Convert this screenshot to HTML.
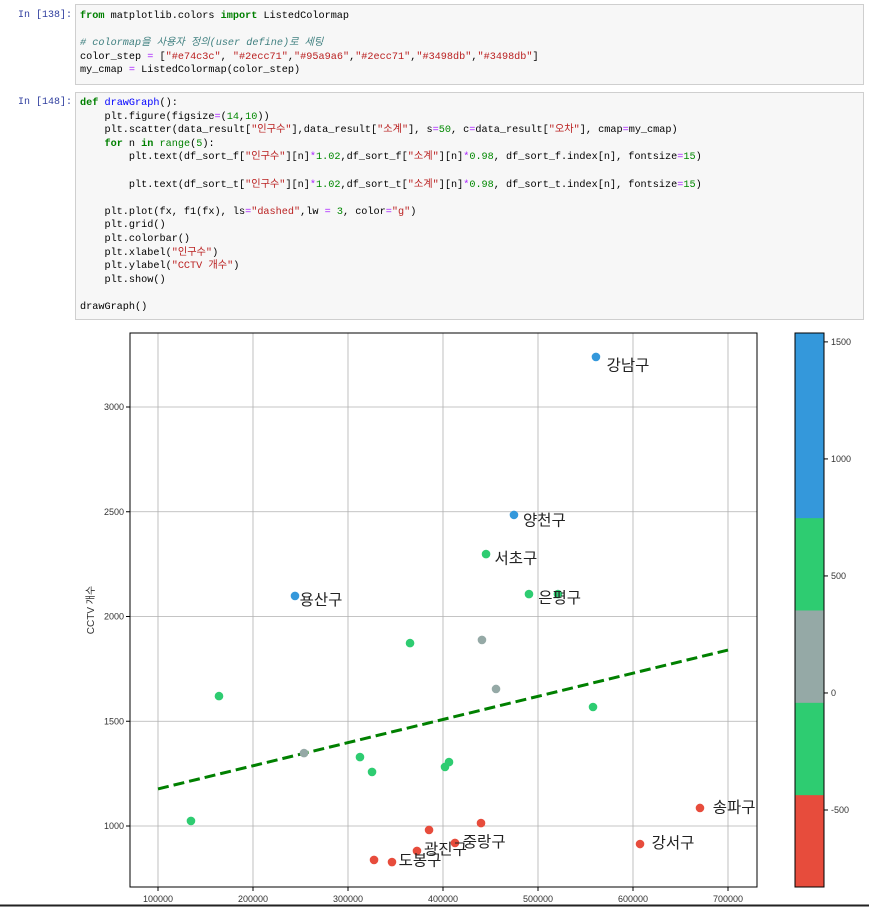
<!DOCTYPE html>
<html><head><meta charset="utf-8">
<style>
body{margin:0;width:869px;height:907px;background:#fff;position:relative;overflow:hidden;font-family:"Liberation Mono","Noto Sans CJK KR",monospace;}
.prompt{position:absolute;left:18px;color:#303f9f;font-size:10px;}
.cell{position:absolute;left:75px;width:789px;background:#f7f7f7;border:1px solid #cfcfcf;box-sizing:border-box;}
.code{position:absolute;left:80px;font-size:10.2px;line-height:13.6px;white-space:pre;color:#000;}
.k{color:#008000;font-weight:bold}.s{color:#ba2121}.n{color:#080}.c{color:#408080;font-style:italic}.o{color:#aa22ff}.f{color:#0000ff}.b{color:#008000}
</style></head><body>
<div class="prompt" style="top:10px">In [138]:</div>
<div class="cell" style="top:4px;height:81px"></div>
<div class="code" style="top:10px"><span class="k">from</span> matplotlib.colors <span class="k">import</span> ListedColormap

<span class="c"># colormap을 사용자 정의(user define)로 세팅</span>
color_step <span class="o">=</span> [<span class="s">"#e74c3c"</span>, <span class="s">"#2ecc71"</span>,<span class="s">"#95a9a6"</span>,<span class="s">"#2ecc71"</span>,<span class="s">"#3498db"</span>,<span class="s">"#3498db"</span>]
my_cmap <span class="o">=</span> ListedColormap(color_step)</div>
<div class="prompt" style="top:97px">In [148]:</div>
<div class="cell" style="top:92px;height:228px"></div>
<div class="code" style="top:97px"><span class="k">def</span> <span class="f">drawGraph</span>():
    plt.figure(figsize<span class="o">=</span>(<span class="n">14</span>,<span class="n">10</span>))
    plt.scatter(data_result[<span class="s">"인구수"</span>],data_result[<span class="s">"소계"</span>], s<span class="o">=</span><span class="n">50</span>, c<span class="o">=</span>data_result[<span class="s">"오차"</span>], cmap<span class="o">=</span>my_cmap)
    <span class="k">for</span> n <span class="k">in</span> <span class="b">range</span>(<span class="n">5</span>):
        plt.text(df_sort_f[<span class="s">"인구수"</span>][n]<span class="o">*</span><span class="n">1.02</span>,df_sort_f[<span class="s">"소계"</span>][n]<span class="o">*</span><span class="n">0.98</span>, df_sort_f.index[n], fontsize<span class="o">=</span><span class="n">15</span>)

        plt.text(df_sort_t[<span class="s">"인구수"</span>][n]<span class="o">*</span><span class="n">1.02</span>,df_sort_t[<span class="s">"소계"</span>][n]<span class="o">*</span><span class="n">0.98</span>, df_sort_t.index[n], fontsize<span class="o">=</span><span class="n">15</span>)

    plt.plot(fx, f1(fx), ls<span class="o">=</span><span class="s">"dashed"</span>,lw <span class="o">=</span> <span class="n">3</span>, color<span class="o">=</span><span class="s">"g"</span>)
    plt.grid()
    plt.colorbar()
    plt.xlabel(<span class="s">"인구수"</span>)
    plt.ylabel(<span class="s">"CCTV 개수"</span>)
    plt.show()

drawGraph()</div>

<svg id="chart" width="869" height="907" style="position:absolute;left:0;top:0" font-family="Liberation Sans, Noto Sans CJK KR, sans-serif">
<g id="grid"></g><g id="marks"></g><g id="cbar"></g>
<rect x="130" y="333" width="627" height="554" fill="none" stroke="#000" stroke-width="1"/>
<text transform="translate(94,610) rotate(-90)" text-anchor="middle" font-size="10" fill="#333">CCTV 개수</text>
<line x1="0" y1="905.5" x2="869" y2="905.5" stroke="#222" stroke-width="2"/>
</svg>
<script>
const districts=["강남구","양천구","서초구","용산구","은평구","","","","","","","","","","","","","송파구","","","강서구","중랑구","광진구","","도봉구"];
const population=[561000,474700,445300,244200,490500,521000,365300,441000,455800,164200,557900,253700,312600,325300,402100,406300,134700,670500,440000,385300,607400,412600,372600,327400,346300];
const cctv=[3239,2485,2298,2098,2107,2107,1873,1888,1654,1620,1568,1348,1329,1258,1282,1305,1024,1086,1014,981,914,919,881,838,828];
const errors=[1200,1200,500,1200,500,500,500,100,100,500,500,100,-300,-300,-300,-300,-300,-600,-600,-600,-600,-600,-600,-600,-600];
const xTicks=[100000,200000,300000,400000,500000,600000,700000];
const yTicks=[1000,1500,2000,2500,3000];
const trendX=[100000,700000];
const trendY=[1177,1840];
const cbColors=["#e74c3c","#2ecc71","#95a9a6","#2ecc71","#3498db","#3498db"];
const cbTicks=[-500,0,500,1000,1500];
const cbMin=-829,cbMax=1538;

const NS="http://www.w3.org/2000/svg";
const X=v=>158+(v-100000)*570/600000;
const Y=v=>826-(v-1000)*419/2000;
const CB=v=>887-(v-cbMin)*554/(cbMax-cbMin);
function mk(tag,attrs,parent){const e=document.createElementNS(NS,tag);for(const k in attrs)e.setAttribute(k,attrs[k]);parent.appendChild(e);return e;}
const grid=document.getElementById('grid'),marks=document.getElementById('marks'),cbar=document.getElementById('cbar');
xTicks.forEach(t=>{
  const l=mk('line',{x1:X(t),x2:X(t),y1:333,y2:887,stroke:'#b0b0b0','stroke-width':0.8},grid);
  
  
  mk('line',{x1:X(t),x2:X(t),y1:887,y2:891,stroke:'#000'},grid);
  const tx=mk('text',{x:X(t),y:902,'text-anchor':'middle','font-size':9,fill:'#333'},grid);
  tx.textContent=t;
  
  
});
yTicks.forEach(t=>{
  const l=mk('line',{x1:130,x2:757,y1:Y(t),y2:Y(t),stroke:'#b0b0b0','stroke-width':0.8},grid);
  
  
  mk('line',{x1:126,x2:130,y1:Y(t),y2:Y(t),stroke:'#000'},grid);
  const tx=mk('text',{x:124,y:Y(t)+3,'text-anchor':'end','font-size':9,fill:'#333'},grid);
  tx.textContent=t;
  
  
});
const tl=mk('line',{x1:X(trendX[0]),y1:Y(trendY[0]),x2:X(trendX[1]),y2:Y(trendY[1]),stroke:'#008000','stroke-width':3,'stroke-dasharray':'11,5'},marks);


function colorFor(v){let i=Math.floor((v-cbMin)/(cbMax-cbMin)*6);i=Math.max(0,Math.min(5,i));return cbColors[i];}
population.forEach((p,i)=>{
  const c=mk('circle',{cx:X(p),cy:Y(cctv[i]),r:4.3,fill:colorFor(errors[i])},marks);
  
  
});
population.forEach((p,i)=>{
  if(!districts[i])return;
  const t=mk('text',{x:X(p*1.02),y:Y(cctv[i]*0.98),'font-size':15.5,fill:'#222'},marks);
  t.textContent=districts[i];
  
  
});
cbColors.forEach((c,i)=>{
  const v0=cbMin+(cbMax-cbMin)*i/6,v1=cbMin+(cbMax-cbMin)*(i+1)/6;
  const r=mk('rect',{x:795,y:CB(v1),width:29,height:CB(v0)-CB(v1)+0.5,fill:c},cbar);
  
  
});
const fr=mk('rect',{x:795,y:333,width:29,height:554,fill:'none',stroke:'#000','stroke-width':1},cbar);


cbTicks.forEach(t=>{
  mk('line',{x1:824,x2:828,y1:CB(t),y2:CB(t),stroke:'#000'},cbar);
  const tx=mk('text',{x:831,y:CB(t)+3,'font-size':9,fill:'#333'},cbar);
  tx.textContent=t;
  
  
});
</script>
</body></html>
